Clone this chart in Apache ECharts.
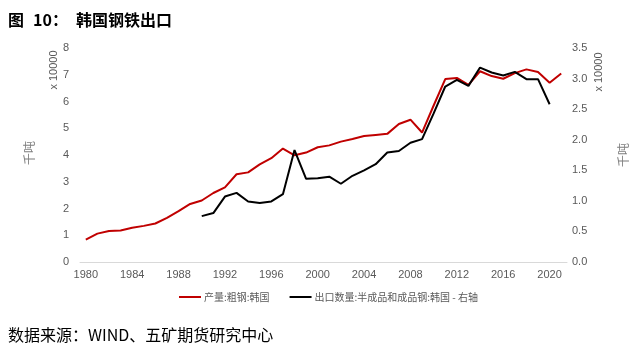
<!DOCTYPE html>
<html><head><meta charset="utf-8">
<script src="https://cdn.jsdelivr.net/npm/echarts@6/dist/echarts.min.js"></script>
<style>html,body{margin:0;padding:0;background:#fff}#c{width:644px;height:358px}</style>
</head><body><div id="c"></div>
<script>
var years = ['1980','1981','1982','1983','1984','1985','1986','1987','1988','1989','1990','1991','1992','1993','1994','1995','1996','1997','1998','1999','2000','2001','2002','2003','2004','2005','2006','2007','2008','2009','2010','2011','2012','2013','2014','2015','2016','2017','2018','2019','2020','2021'];
// 产量:粗钢:韩国 (x10000 千吨, left axis)
var production = [0.84,1.06,1.16,1.18,1.28,1.35,1.44,1.65,1.90,2.17,2.30,2.58,2.79,3.28,3.35,3.65,3.88,4.24,3.99,4.09,4.29,4.36,4.50,4.60,4.71,4.75,4.79,5.16,5.32,4.84,5.85,6.84,6.88,6.62,7.13,6.95,6.85,7.06,7.20,7.10,6.70,7.05];
// 出口数量:半成品和成品钢:韩国 (x10000 千吨, right axis)
var exports = [null,null,null,null,null,null,null,null,null,null,0.75,0.80,1.07,1.13,0.99,0.965,0.99,1.11,1.83,1.36,1.37,1.395,1.28,1.41,1.50,1.60,1.79,1.815,1.95,2.01,2.43,2.87,2.98,2.88,3.18,3.10,3.05,3.11,2.99,2.99,2.58,null];
var leftTicks = {min:0, max:8, interval:1};
var rightTicks = {min:0, max:3.5, interval:0.5};
var names = ['产量:粗钢:韩国','出口数量:半成品和成品钢:韩国 - 右轴'];

var chart = echarts.init(document.getElementById('c'));
var gray = '#7f7f7f';
var ff = "'Liberation Sans','Noto Sans CJK SC',sans-serif";
chart.setOption({
  animation:false,
  textStyle:{fontFamily:ff},
  grid:{left:80,right:77,top:48,bottom:96,containLabel:false},
  legend:{
    bottom:51, left:174, itemGap:20, itemWidth:22, itemHeight:2, icon:'rect',
    textStyle:{color:'#595959',fontSize:10,padding:[0,0,0,-2],fontFamily:"'Noto Sans CJK SC',sans-serif"},
    data:names
  },
  xAxis:{
    type:'category', data:years, boundaryGap:true,
    axisLine:{lineStyle:{color:'#d9d9d9'}},
    axisTick:{interval:3,length:4,lineStyle:{color:'#d9d9d9'}},
    axisLabel:{interval:3,color:'#595959',fontSize:11,margin:7}
  },
  yAxis:[
    {type:'value',min:leftTicks.min,max:leftTicks.max,interval:leftTicks.interval,
     splitLine:{show:false},axisLine:{show:false},axisTick:{show:false},
     axisLabel:{color:'#595959',fontSize:11,margin:11}},
    {type:'value',min:rightTicks.min,max:rightTicks.max,interval:rightTicks.interval,
     splitLine:{show:false},axisLine:{show:false},axisTick:{show:false},
     axisLabel:{color:'#595959',fontSize:11,margin:5,formatter:function(v){return v.toFixed(1);}}}
  ],
  series:[
    {name:names[0],type:'line',data:production,yAxisIndex:0,showSymbol:false,symbol:'none',
     lineStyle:{color:'#c00000',width:2},itemStyle:{color:'#c00000'}},
    {name:names[1],type:'line',data:exports,yAxisIndex:1,showSymbol:false,symbol:'none',
     lineStyle:{color:'#000000',width:2},itemStyle:{color:'#000000'}}
  ],
  graphic:[
    {type:'text',left:8,top:12,style:{text:'图',font:"bold 16px 'Noto Sans CJK SC',sans-serif",fill:'#000'}},
    {type:'text',left:33,top:12,style:{text:'10：',font:"bold 16px 'Noto Sans CJK SC',sans-serif",fill:'#000'}},
    {type:'text',left:76,top:12,style:{text:'韩国钢铁出口',font:"bold 16px 'Noto Sans CJK SC',sans-serif",fill:'#000'}},
    {type:'text',left:8,top:327,style:{text:'数据来源：WIND、五矿期货研究中心',font:"16px 'Noto Sans CJK SC',sans-serif",fill:'#000'}},
    {type:'text',x:29,y:153,rotation:Math.PI/2,style:{text:'千吨',font:"12px 'Noto Sans CJK SC',sans-serif",fill:gray,align:'center',verticalAlign:'middle'}},
    {type:'text',x:54,y:70,rotation:Math.PI/2,style:{text:'x 10000',font:"11px 'Liberation Sans',sans-serif",fill:'#595959',align:'center',verticalAlign:'middle'}},
    {type:'text',x:623,y:155,rotation:Math.PI/2,style:{text:'千吨',font:"12px 'Noto Sans CJK SC',sans-serif",fill:gray,align:'center',verticalAlign:'middle'}},
    {type:'text',x:599,y:72,rotation:Math.PI/2,style:{text:'x 10000',font:"11px 'Liberation Sans',sans-serif",fill:'#595959',align:'center',verticalAlign:'middle'}}
  ]
});
</script></body></html>
